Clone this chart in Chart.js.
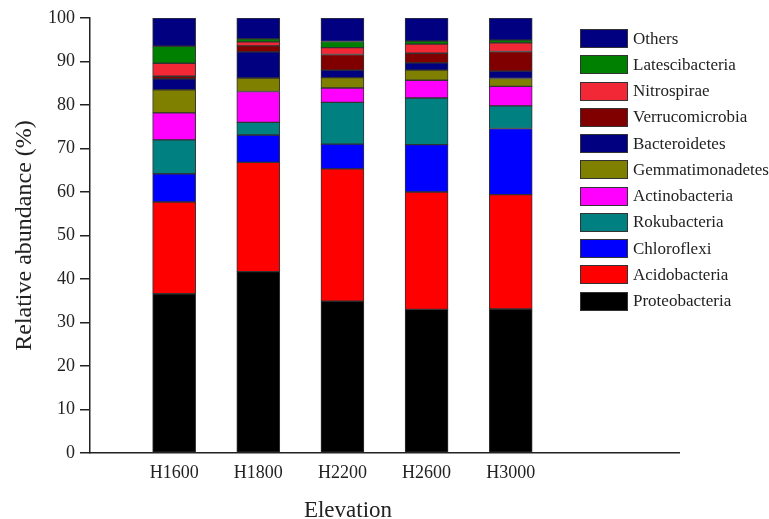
<!DOCTYPE html>
<html>
<head>
<meta charset="utf-8">
<script src="https://cdn.jsdelivr.net/npm/chart.js@4.4.1/dist/chart.umd.min.js"></script>
<style>
  html, body { margin: 0; padding: 0; background: #fff; }
  #wrap { position: relative; width: 769px; height: 519px; }
  #legend { position: absolute; left: 580px; top: 29px; margin: 0; padding: 0; list-style: none;
            font-family: 'Liberation Serif', 'Times New Roman', serif; font-size: 17px; color: #222; }
  #legend li { display: flex; align-items: center; height: 19px; margin-bottom: 7.25px; white-space: nowrap; }
  #legend .box { width: 46px; height: 17px; border: 1px solid #333; margin-right: 5px; }
</style>
</head>
<body>
<div id="wrap">
  <canvas id="chart" width="769" height="519"></canvas>
  <ul id="legend"></ul>
</div>
<script>
const elevations = ['H1600', 'H1800', 'H2200', 'H2600', 'H3000'];

// relative abundance (%) per phylum, one value per elevation
const proteobacteria   = [36.6, 41.7, 34.9, 33.0, 33.1];
const acidobacteria    = [21.1, 25.1, 30.4, 27.0, 26.3];
const chloroflexi      = [6.5, 6.3, 5.7, 10.9, 15.2];
const rokubacteria     = [7.8, 2.9, 9.6, 10.7, 5.2];
const actinobacteria   = [6.2, 7.1, 3.3, 4.1, 4.5];
const gemmatimonadetes = [5.3, 3.1, 2.4, 2.3, 1.8];
const bacteroidetes    = [2.5, 6.0, 1.7, 1.7, 1.7];
const verrucomicrobia  = [0.6, 1.4, 3.6, 2.2, 4.5];
const nitrospirae      = [3.0, 0.9, 1.6, 2.1, 2.0];
const latescibacteria  = [3.9, 0.7, 1.4, 0.7, 0.6];
const others           = [6.5, 4.8, 5.4, 5.3, 5.1];

const yTicks = [0, 10, 20, 30, 40, 50, 60, 70, 80, 90, 100];

// bottom to top
const series = [
  ['Proteobacteria', proteobacteria, '#000000'],
  ['Acidobacteria', acidobacteria, '#ff0000'],
  ['Chloroflexi', chloroflexi, '#0000ff'],
  ['Rokubacteria', rokubacteria, '#008080'],
  ['Actinobacteria', actinobacteria, '#ff00ff'],
  ['Gemmatimonadetes', gemmatimonadetes, '#808000'],
  ['Bacteroidetes', bacteroidetes, '#000080'],
  ['Verrucomicrobia', verrucomicrobia, '#800000'],
  ['Nitrospirae', nitrospirae, '#f32837'],
  ['Latescibacteria', latescibacteria, '#008000'],
  ['Others', others, '#000080']
];

// empty slot before the first bar and two after the last one
const pad = arr => [null, ...arr, null, null];
const font = "'Liberation Serif', 'Times New Roman', serif";

const xTitle = {
  id: 'xTitle',
  afterDraw(chart) {
    const ctx = chart.ctx;
    ctx.save();
    ctx.font = `23px ${font}`;
    ctx.fillStyle = '#222';
    ctx.textAlign = 'center';
    ctx.textBaseline = 'alphabetic';
    ctx.fillText('Elevation', 348, 517);
    ctx.restore();
  }
};

const chart = new Chart(document.getElementById('chart'), {
  type: 'bar',
  data: {
    labels: pad(elevations).map(l => l || ''),
    datasets: series.map(([name, values, color]) => ({
      label: name,
      data: pad(values),
      backgroundColor: color,
      borderColor: '#333',
      borderWidth: 1,
      borderSkipped: false,
      barThickness: 43
    }))
  },
  options: {
    responsive: false,
    animation: false,
    devicePixelRatio: 1,
    layout: { padding: { top: 18, right: 90, left: 0, bottom: 0 } },
    plugins: { legend: { display: false }, tooltip: { enabled: false } },
    scales: {
      x: {
        stacked: true,
        offset: false,
        grid: { display: false },
        border: { display: true, color: '#222', width: 1.5 },
        ticks: { autoSkip: false, maxRotation: 0, padding: 1, color: '#222', font: { family: font, size: 18 } },
        afterFit(scale) { scale.height = 66; }
      },
      y: {
        stacked: true,
        min: 0,
        max: 100,
        afterBuildTicks(scale) { scale.ticks = yTicks.map(v => ({ value: v })); },
        grid: { drawOnChartArea: false, drawTicks: true, tickLength: 10, color: '#222', lineWidth: 1.5 },
        border: { display: true, color: '#222', width: 1.5 },
        ticks: { padding: 5, color: '#222', font: { family: font, size: 18 } },
        title: { display: true, text: 'Relative abundance (%)', color: '#222',
                 font: { family: font, size: 24 }, padding: { top: 10, bottom: 0 } },
        afterFit(scale) { scale.width = 90; }
      }
    }
  },
  plugins: [xTitle]
});

// legend, top entry first
const ul = document.getElementById('legend');
ul.innerHTML = chart.data.datasets.slice().reverse().map(d =>
  `<li><span class="box" style="background:${d.backgroundColor}"></span>${d.label}</li>`
).join('');
</script>
</body>
</html>
